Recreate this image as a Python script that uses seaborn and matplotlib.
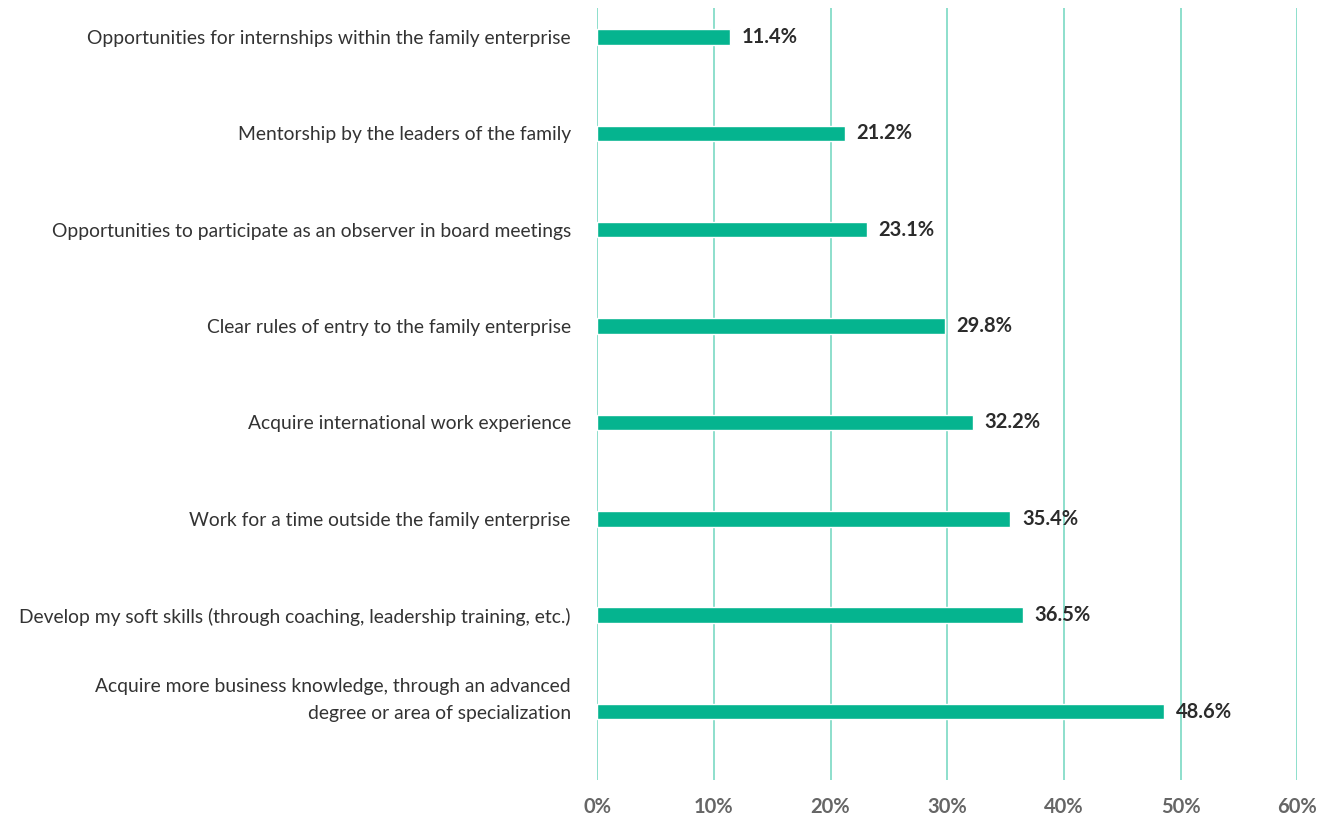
import matplotlib
matplotlib.use("Agg")
import matplotlib.pyplot as plt
import matplotlib.transforms as mtransforms
import seaborn as sns
import pandas as pd

# --- data ---
categories = [
    "Opportunities for internships within the family enterprise",
    "Mentorship by the leaders of the family",
    "Opportunities to participate as an observer in board meetings",
    "Clear rules of entry to the family enterprise",
    "Acquire international work experience",
    "Work for a time outside the family enterprise",
    "Develop my soft skills (through coaching, leadership training, etc.)",
    "Acquire more business knowledge, through an advanced\ndegree or area of specialization",
]
values = [11.4, 21.2, 23.1, 29.8, 32.2, 35.4, 36.5, 48.6]
x_ticks = [0, 10, 20, 30, 40, 50, 60]
x_tick_labels = ["0%", "10%", "20%", "30%", "40%", "50%", "60%"]

df = pd.DataFrame({"category": categories, "value": values})

bar_color = "#05b48f"
grid_color = "#6fd6bf"

sns.set_theme(style="white")
plt.rcParams["font.family"] = ["Lato", "DejaVu Sans"]

fig = plt.figure(figsize=(13.36, 8.18), dpi=100)
ax = fig.add_axes([0.447, 0.0465, 0.524, 0.9435])

sns.barplot(data=df, x="value", y="category", color=bar_color,
            width=0.16, saturation=1, ax=ax, zorder=3)

ax.set_xlim(0, 60)
ax.set_ylim(7.71, -0.3)
ax.set_xticks(x_ticks)
ax.set_xticklabels(x_tick_labels, fontsize=14.5, fontweight="bold", color="#666666")
ax.tick_params(axis="x", length=0, pad=12)
ax.tick_params(axis="y", length=0, pad=19)

# move multi-line label up so its last line sits on the bar
shift = mtransforms.ScaledTranslation(0, 18 / 100, fig.dpi_scale_trans)
for lbl in ax.get_yticklabels():
    lbl.set_fontsize(13.9)
    lbl.set_fontweight("normal")
    lbl.set_color("#333333")
    lbl.set_horizontalalignment("right")
    lbl.set_multialignment("right")
    if "\n" in lbl.get_text():
        lbl.set_linespacing(1.7)
        lbl.set_transform(lbl.get_transform() + shift)

for x in x_ticks:
    ax.axvline(x, color=grid_color, linewidth=1.1, zorder=1)

for i, v in enumerate(values):
    ax.text(v + 1.0, i, f"{v:.1f}%", va="center", ha="left",
            fontsize=14.5, fontweight="bold", color="#2b2b2b", zorder=4)

for s in ax.spines.values():
    s.set_visible(False)
ax.set_xlabel("")
ax.set_ylabel("")

fig.savefig("out.png", dpi=100, facecolor="white")
